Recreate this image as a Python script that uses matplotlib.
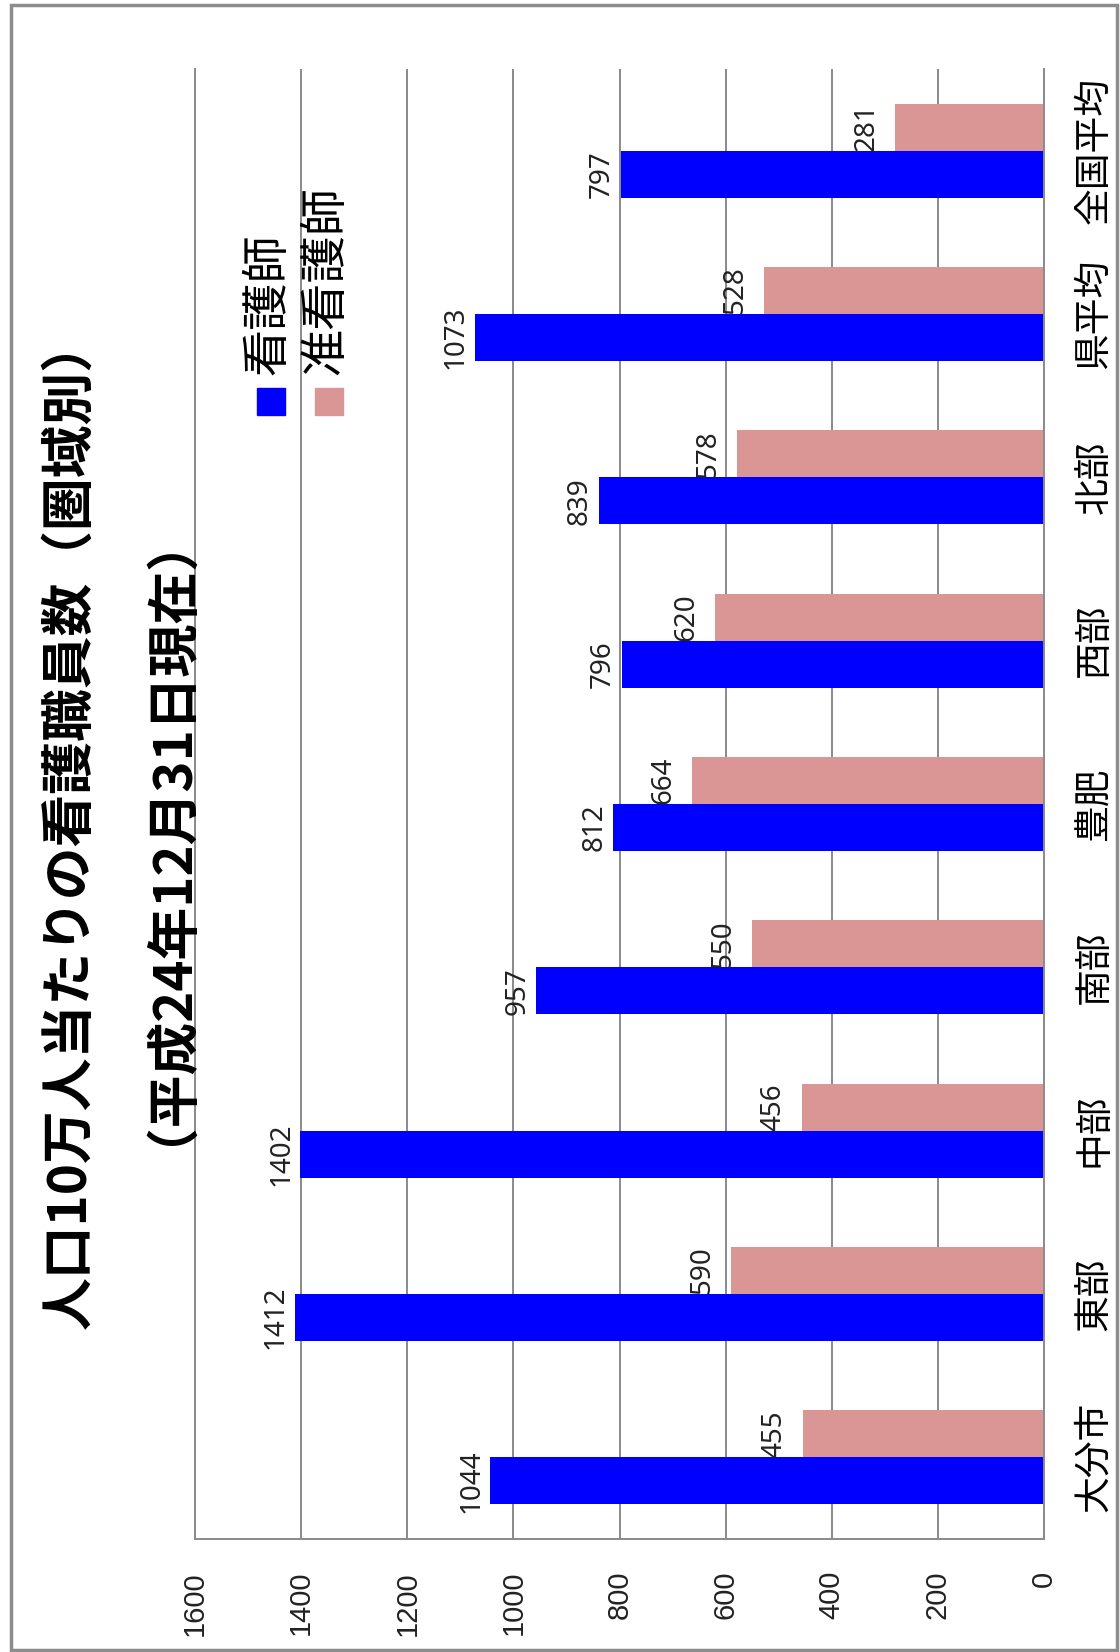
import numpy as np
import matplotlib
matplotlib.use('Agg')
import matplotlib.pyplot as plt
from matplotlib.patches import Rectangle

plt.rcParams['font.family'] = ['Noto Sans CJK JP', 'DejaVu Sans']

# 圏域別 人口10万人当たりの看護職員数
areas = ['大分市', '東部', '中部', '南部', '豊肥', '西部', '北部', '県平均', '全国平均']
kango = [1044, 1412, 1402, 957, 812, 796, 839, 1073, 797]       # 看護師
junkango = [455, 590, 456, 550, 664, 620, 578, 528, 281]         # 准看護師
xticks = [0, 200, 400, 600, 800, 1000, 1200, 1400, 1600]

W, H = 1120, 1652
blue = '#0000ff'
pink = '#d99694'
grid_c = '#8a8a8a'


def fx(x):
    return x / W


def fy(y):
    return 1 - y / H


fig = plt.figure(figsize=(W / 100, H / 100), dpi=100)
# グラフ全体を90度回転させた配置
ax = fig.add_axes([fx(195), fy(1539), fx(1044) - fx(195), fy(69) - fy(1539)])

y = np.arange(len(areas))
h = 0.288
ax.barh(y - h / 2, kango, height=h, color=blue, zorder=2)
ax.barh(y + h / 2, junkango, height=h, color=pink, zorder=2)

ax.set_xlim(1600, 0)
ax.set_ylim(-0.5, len(areas) - 0.5)
ax.set_xticks(xticks)
ax.set_xticklabels([str(t) for t in xticks], family='Liberation Sans',
                   fontsize=21, color='#222222', rotation=90, va='top')
ax.set_yticks(y)
ax.set_yticklabels(areas, fontsize=26.5, rotation=90, va='center')
ax.yaxis.tick_right()
ax.tick_params(axis='x', length=0, pad=23)
ax.tick_params(axis='y', length=0, pad=22)

ax.grid(axis='x', color=grid_c, lw=1.4)
ax.set_axisbelow(True)
ax.spines['top'].set_visible(False)
for s in ['left', 'bottom', 'right']:
    ax.spines[s].set_color(grid_c)
    ax.spines[s].set_linewidth(1.4)

# データラベル
for i in range(len(areas)):
    for v, off, gap in [(kango[i], -h / 2, 3.5), (junkango[i], h / 2, 10.5)]:
        ax.annotate(str(v), xy=(v, i + off), xytext=(-gap, 0),
                    textcoords='offset points', ha='right', va='center',
                    rotation=90, fontsize=20, family='Noto Sans',
                    color='#222222', zorder=3)

# タイトル
fig.text(fx(70), fy(1329), '人口10万人当たりの看護職員数（圏域別）',
         rotation=90, ha='center', va='bottom', fontsize=38,
         fontweight='bold')
fig.text(fx(142), fy(1145), '（平成24年12月31日現在）',
         rotation=90, ha='center', va='bottom', fontsize=38,
         fontweight='bold')

# 凡例
for cx, label, c in [(268, '看護師', blue), (326, '准看護師', pink)]:
    fig.text(fx(cx), fy(375), label, rotation=90, ha='center',
             va='bottom', fontsize=34)
    fig.add_artist(Rectangle((fx(cx - 11), fy(415)), 28 / W, 27 / H,
                             transform=fig.transFigure, color=c))

# 外枠
fig.add_artist(Rectangle((fx(11), fy(1650)), fx(1117) - fx(11),
                         fy(5) - fy(1650), transform=fig.transFigure,
                         fill=False, edgecolor='#8c8c8c', lw=2.5))

fig.savefig('out.png', dpi=100)
